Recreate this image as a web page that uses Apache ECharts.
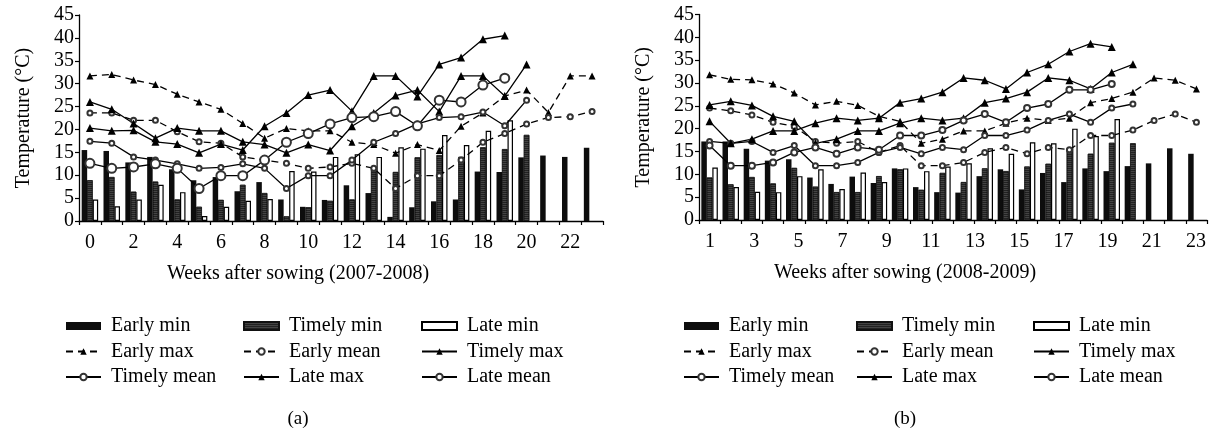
<!DOCTYPE html>
<html><head><meta charset="utf-8">
<script src="https://cdn.jsdelivr.net/npm/echarts@6/dist/echarts.min.js"></script>
<style>html,body{margin:0;padding:0;background:#fff}#c{width:1210px;height:431px}</style>
</head><body><div id="c"></div>
<script>
// ---------- Panel (a) 2007-2008 ----------
const weeksA = ['0','1','2','3','4','5','6','7','8','9','10','11','12','13','14','15','16','17','18','19','20','21','22','23'];
const earlyMinA  = [15.5,15.3,12.8,14.0,11.3,8.9,9.6,6.5,8.5,4.7,3.1,4.6,7.8,6.1,0.9,3.0,4.3,4.7,10.8,10.7,13.9,14.3,14.0,16.0];
const timelyMinA = [8.9,9.6,6.4,8.6,4.7,3.1,4.6,7.9,6.1,1.0,3.0,4.4,4.7,11.2,10.7,13.9,14.4,14.0,16.1,15.7,18.8];
const lateMinA   = [4.7,3.2,4.7,7.9,6.3,1.1,3.1,4.4,4.8,10.9,10.8,14.0,14.6,14.0,16.1,15.8,18.8,16.6,19.7,22.0];
const earlyMaxA  = [31.7,32.0,30.8,29.8,27.7,26.0,24.4,21.3,18.1,20.2,19.7,19.7,17.2,16.7,14.8,16.7,15.4,20.7,23.6,27.3,28.6,23.7,31.7,31.7];
const earlyMeanA = [23.6,23.6,22.0,22.0,19.5,17.3,17.0,14.0,13.3,12.6,11.5,11.8,12.6,11.5,7.1,9.9,9.9,13.3,17.2,19.1,21.2,22.6,22.8,23.9];
const timelyMaxA = [26.0,24.4,21.3,18.1,20.3,19.7,19.7,17.3,16.7,14.9,16.7,15.4,20.7,23.6,27.4,28.6,23.9,31.7,31.7,27.3,34.2];
const timelyMeanA= [17.4,17.0,14.0,13.3,12.5,11.5,11.7,12.5,11.5,7.1,9.9,9.9,13.3,17.2,19.1,21.2,22.6,22.8,23.8,20.8,26.4];
const lateMaxA   = [20.3,19.7,19.8,17.3,16.8,14.9,16.8,15.5,20.7,23.6,27.5,28.6,24.0,31.7,31.7,27.2,34.2,35.7,39.7,40.5];
const lateMeanA  = [12.6,11.5,11.8,12.5,11.5,7.1,9.9,9.9,13.3,17.2,19.1,21.2,22.6,22.8,23.9,20.8,26.4,26.0,29.7,31.2];

// ---------- Panel (b) 2008-2009 ----------
const weeksB = ['1','2','3','4','5','6','7','8','9','10','11','12','13','14','15','16','17','18','19','20','21','22','23','24'];
const tickLabelsB = [1,3,5,7,9,11,13,15,17,19,21,23];
const earlyMinB  = [17.2,17.2,15.6,13.0,13.3,9.3,7.9,9.5,8.1,11.3,7.2,6.1,6.0,9.6,11.1,6.7,10.3,8.3,11.3,10.7,11.8,12.4,15.7,14.5];
const timelyMinB = [9.3,7.8,9.4,8.0,11.4,7.3,6.1,6.1,9.6,11.1,6.6,10.3,8.3,11.3,10.7,11.7,12.3,15.7,14.5,16.9,16.8];
const lateMinB   = [11.5,7.2,6.2,6.1,9.6,11.1,6.8,10.4,8.3,11.3,10.7,11.7,12.4,15.7,14.5,17.0,16.8,20.0,18.4,22.1];
const earlyMaxB  = [31.8,30.8,30.7,29.8,27.8,25.2,26.0,25.1,22.7,21.6,16.8,17.7,19.5,19.5,21.2,22.3,21.8,22.3,25.7,26.6,28.0,31.1,30.6,28.7];
const earlyMeanB = [24.5,23.9,23.0,21.4,20.5,17.2,16.8,17.2,14.8,16.3,11.9,11.9,12.6,14.8,15.9,14.5,15.9,15.4,18.5,18.5,19.7,21.8,23.2,21.4];
const timelyMaxB = [25.2,26.0,25.1,22.7,21.6,16.8,17.7,19.5,19.5,21.2,22.3,21.8,22.3,25.7,26.6,28.0,31.1,30.6,28.7,32.3,34.1];
const timelyMeanB= [17.2,16.8,17.2,14.8,16.3,11.9,11.9,12.6,14.8,15.9,14.5,15.9,15.4,18.5,18.5,19.7,21.8,23.2,21.4,24.5,25.4];
const lateMaxB   = [21.6,16.8,17.7,19.5,19.5,21.2,22.3,21.8,22.3,25.7,26.6,28.0,31.1,30.6,28.7,32.3,34.1,36.9,38.6,37.9];
const lateMeanB  = [16.3,11.9,11.9,12.6,14.8,15.9,14.5,15.9,15.4,18.5,18.5,19.7,21.8,23.2,21.4,24.5,25.4,28.5,28.5,29.8];

const F = 'Liberation Serif';
const FS = 20;

function mkX(g, data, name, pad, showLabels) {
  return {
    type: 'category', gridIndex: g, data: data, boundaryGap: true, position: 'bottom',
    axisLine: { lineStyle: { color: '#000', width: 1.3 } },
    axisTick: { show: true, interval: 0, length: 4, lineStyle: { color: '#000', width: 1.2 } },
    axisLabel: { show: showLabels, interval: 1, fontSize: FS, fontFamily: F, color: '#000', margin: 12 },
    splitLine: { show: false },
    name: name, nameLocation: 'middle', nameGap: 43,
    nameTextStyle: { fontSize: FS, fontFamily: F, color: '#000', padding: [0, pad, 0, 0] }
  };
}
function mkY(g) {
  return {
    type: 'value', gridIndex: g, min: 0, max: 45, interval: 5,
    axisLine: { show: true, lineStyle: { color: '#000', width: 1.3 } },
    axisTick: { show: true, length: 4, lineStyle: { color: '#000', width: 1.2 } },
    axisLabel: { fontSize: FS, fontFamily: F, color: '#000', margin: 5 },
    splitLine: { show: false },
    name: 'Temperature (°C)', nameLocation: 'middle', nameGap: 45,
    nameTextStyle: { fontSize: FS, fontFamily: F, color: '#000' }
  };
}
function line(g, name, data, sym, size, dashed) {
  return {
    name: name, type: 'line', xAxisIndex: g, yAxisIndex: g, data: data, z: 4,
    symbol: sym, symbolSize: size, showAllSymbol: true,
    lineStyle: { color: '#000', width: 1.3, type: dashed ? [7, 5] : 'solid' },
    itemStyle: { color: sym === 'emptyCircle' ? '#333' : '#000', borderWidth: 1 }
  };
}
function panel(g, d, lmSize) {
  return [
    { name: 'Early min', type: 'bar', xAxisIndex: g, yAxisIndex: g, data: d.emin, barWidth: 5.5, barGap: '0%',
      itemStyle: { color: '#0d0d0d' } },
    { name: 'Timely min', type: 'bar', xAxisIndex: g, yAxisIndex: g, data: d.tmin, barWidth: 5.5, barGap: '0%',
      itemStyle: { color: '#444', borderColor: '#111', borderWidth: 0.6,
        decal: { symbol: 'rect', symbolSize: 1, dashArrayX: [1, 0], dashArrayY: [1, 1], rotation: 0, color: 'rgba(0,0,0,0.5)' } } },
    { name: 'Late min', type: 'bar', xAxisIndex: g, yAxisIndex: g, data: d.lmin, barWidth: 5.5, barGap: '0%',
      itemStyle: { color: '#fff', borderColor: '#000', borderWidth: 1.2 } },
    line(g, 'Early max', d.emax, 'triangle', 7, true),
    line(g, 'Early mean', d.emean, 'emptyCircle', 5, true),
    line(g, 'Timely max', d.tmax, 'triangle', 8, false),
    line(g, 'Timely mean', d.tmean, 'emptyCircle', 5, false),
    line(g, 'Late max', d.lmax, 'triangle', 8, false),
    line(g, 'Late mean', d.lmean, 'emptyCircle', lmSize, false)
  ];
}
function legendCol(left, names) {
  return {
    orient: 'vertical', left: left, top: 316, padding: 0, itemGap: 5.5,
    itemWidth: 35, itemHeight: 8, selectedMode: false,
    textStyle: { fontSize: FS, fontFamily: F, color: '#000', lineHeight: 20, padding: [0, 0, 0, 5] },
    data: names.map(n => (n.indexOf('min') >= 0 ? { name: n, icon: 'rect' } : n))
  };
}

const chart = echarts.init(document.getElementById('c'), null, { renderer: 'canvas' });
chart.setOption({
  animation: false,
  backgroundColor: '#fff',
  textStyle: { fontFamily: F, color: '#000' },
  grid: [
    { left: 79, top: 15, width: 524, height: 206 },
    { left: 699, top: 14.5, width: 508, height: 205.5 }
  ],
  xAxis: [
    mkX(0, weeksA, 'Weeks after sowing (2007-2008)', 86, true),
    mkX(1, weeksB, 'Weeks after sowing (2008-2009)', 96, false),
    { type: 'value', gridIndex: 1, position: 'bottom', min: 0.5, max: 23.5,
      axisLine: { show: false }, axisTick: { show: false }, splitLine: { show: false },
      axisLabel: { customValues: tickLabelsB, formatter: v => String(v), fontSize: FS, fontFamily: F, color: '#000', margin: 12 } }
  ],
  yAxis: [mkY(0), mkY(1)],
  legend: [
    legendCol(65, ['Early min', 'Early max', 'Timely mean']),
    legendCol(243, ['Timely min', 'Early mean', 'Late max']),
    legendCol(421, ['Late min', 'Timely max', 'Late mean']),
    legendCol(683, ['Early min', 'Early max', 'Timely mean']),
    legendCol(856, ['Timely min', 'Early mean', 'Late max']),
    legendCol(1033, ['Late min', 'Timely max', 'Late mean'])
  ],
  graphic: [
    { type: 'text', x: 298, y: 419, style: { text: '(a)', font: '19px "Liberation Serif"', fill: '#000', align: 'center', verticalAlign: 'middle' } },
    { type: 'text', x: 905, y: 419, style: { text: '(b)', font: '19px "Liberation Serif"', fill: '#000', align: 'center', verticalAlign: 'middle' } }
  ],
  series: [].concat(
    panel(0, { emin: earlyMinA, tmin: timelyMinA, lmin: lateMinA, emax: earlyMaxA, emean: earlyMeanA,
               tmax: timelyMaxA, tmean: timelyMeanA, lmax: lateMaxA, lmean: lateMeanA }, 9),
    panel(1, { emin: earlyMinB, tmin: timelyMinB, lmin: lateMinB, emax: earlyMaxB, emean: earlyMeanB,
               tmax: timelyMaxB, tmean: timelyMeanB, lmax: lateMaxB, lmean: lateMeanB }, 6)
  )
});
</script></body></html>
